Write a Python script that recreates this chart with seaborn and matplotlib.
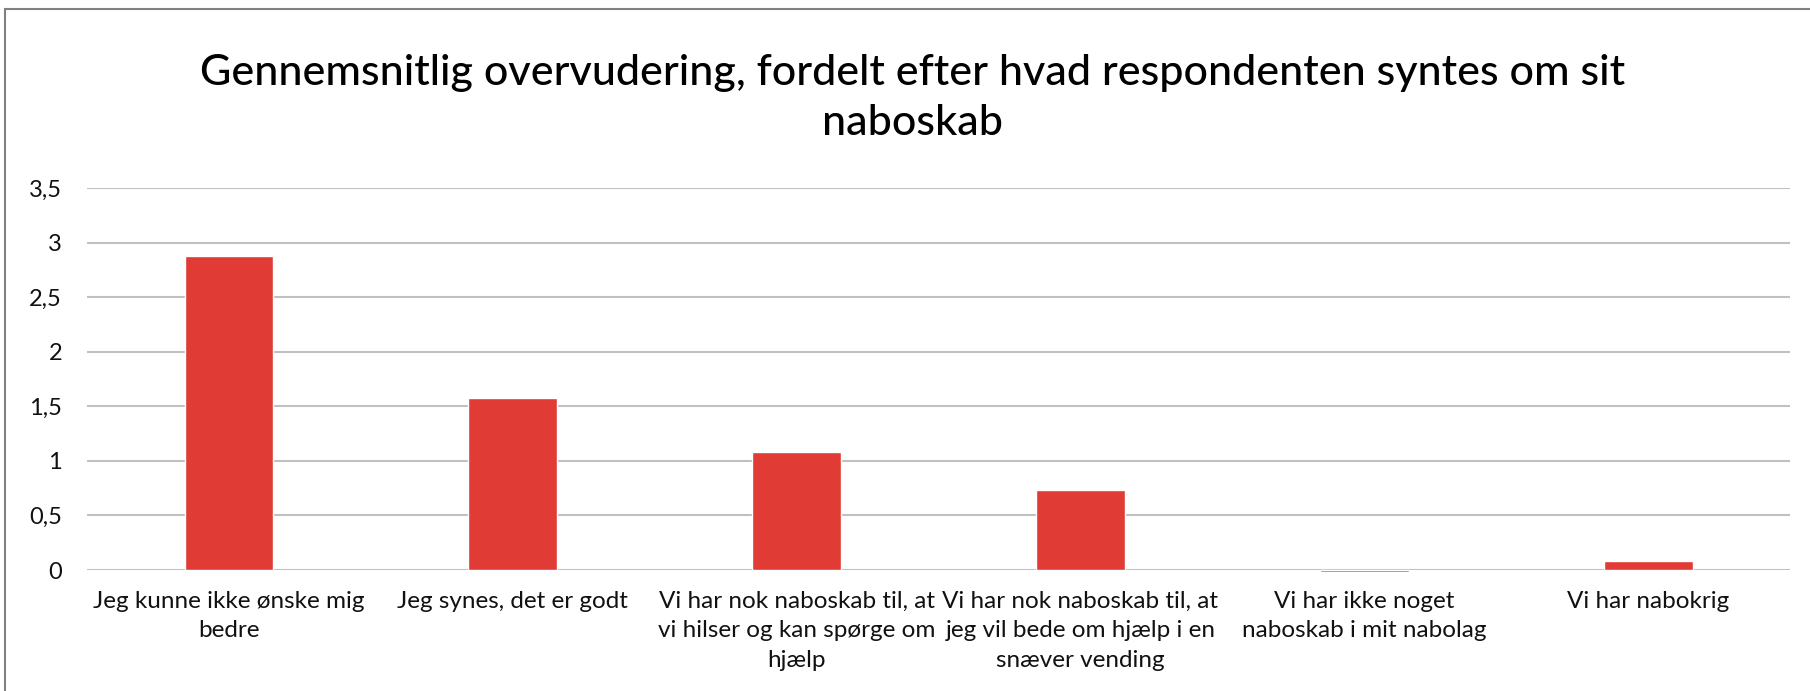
import matplotlib
matplotlib.use('Agg')
import matplotlib.pyplot as plt
import matplotlib.patches as mpatches
import seaborn as sns
import pandas as pd

# categories (wrapped as in the original chart) and average over-estimate
categories = [
    'Jeg kunne ikke ønske mig\nbedre',
    'Jeg synes, det er godt',
    'Vi har nok naboskab til, at\nvi hilser og kan spørge om\nhjælp',
    'Vi har nok naboskab til, at\njeg vil bede om hjælp i en\nsnæver vending',
    'Vi har ikke noget\nnaboskab i mit nabolag',
    'Vi har nabokrig',
]
values = [2.88, 1.58, 1.08, 0.73, -0.015, 0.08]
y_ticks = [0, 0.5, 1, 1.5, 2, 2.5, 3, 3.5]
y_tick_labels = ['0', '0,5', '1', '1,5', '2', '2,5', '3', '3,5']
title = 'Gennemsnitlig overvudering, fordelt efter hvad respondenten syntes om sit\nnaboskab'

df = pd.DataFrame({'kategori': categories, 'overvudering': values})

sns.set_style('white')
plt.rcParams['font.family'] = ['Lato', 'DejaVu Sans']

fig = plt.figure(figsize=(18.1, 6.91), dpi=100)
ax = fig.add_axes([0.0481, 0.1751, 0.9409, 0.5524])

sns.barplot(data=df, x='kategori', y='overvudering', color='#E03B35',
            width=0.313, saturation=1, ax=ax, zorder=3)
for p in ax.patches:
    p.set_clip_on(False)

ax.set_ylim(0, 3.5)
ax.set_xlim(-0.5, len(categories) - 0.5)
ax.set_yticks(y_ticks)
ax.set_yticklabels(y_tick_labels)
ax.yaxis.grid(True, color='#C0C0C0', linewidth=1.5, zorder=0)
ax.set_axisbelow(True)
for s in ax.spines.values():
    s.set_visible(False)
ax.tick_params(axis='y', length=0, pad=18, labelsize=17, labelcolor='#111111')
ax.tick_params(axis='x', length=0, pad=15, labelsize=17.5, labelcolor='#111111')
for lbl in ax.get_xticklabels():
    lbl.set_linespacing(1.5)
ax.set_xlabel('')
ax.set_ylabel('')

fig.text(0.504, 0.858, title, ha='center', va='center', fontsize=31,
         fontweight='medium', linespacing=1.4, color='black')

# outer chart frame, cut off at the right and bottom edges
frame = mpatches.Rectangle((0.00276, -0.1), 2, 0.987 + 0.1, transform=fig.transFigure,
                           fill=False, edgecolor='#808080', linewidth=1.5)
fig.patches.append(frame)

fig.savefig('out.png', dpi=100)
